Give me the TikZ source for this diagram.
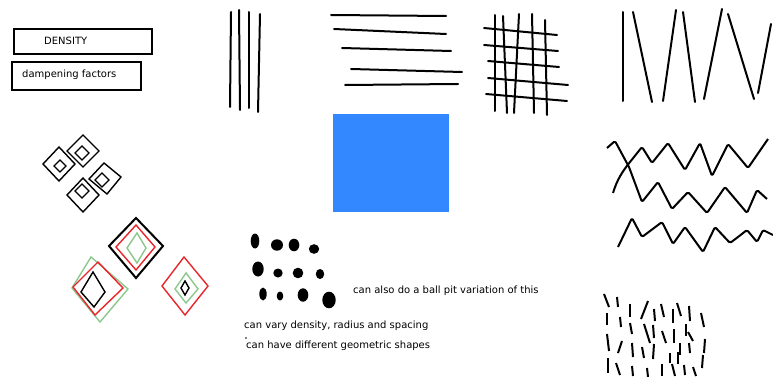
\documentclass[tikz,border=0pt]{standalone}
\usepackage{fontspec}
\setmainfont{DejaVu Sans}
\usetikzlibrary{positioning}
\definecolor{pitblue}{RGB}{51,136,255}
\definecolor{pitred}{RGB}{232,38,42}
\definecolor{pitgreen}{RGB}{140,200,140}

\begin{document}
\begin{tikzpicture}[x=1pt, y=-1pt,
    stroke/.style={line width=2pt, line cap=round},
    wave/.style={line width=2pt, line join=round, rounded corners=1.5pt},
    rhomb/.style={line width=1.4pt, line join=miter},
    note/.style={anchor=west, inner sep=0pt, font=\fontsize{10}{12}\selectfont}]

  % Fix the page size
  \useasboundingbox (0,0) rectangle (773,377);

  % Label boxes
  \draw[line width=2pt] (14,29) rectangle (152,54);
  \draw[line width=2pt] (12,62) rectangle (141,90);
  \node[note] (density) at (44,41) {DENSITY};
  \node[note] (damp) at (22,75) {dampening factors};

  % Vertical strokes
  \draw[stroke] (231,12) -- (230,107);
  \draw[stroke] (239,10) -- (240,110);
  \draw[stroke] (249,12) -- (249,108);
  \draw[stroke] (260,14) -- (258,112);

  % Horizontal strokes
  \draw[stroke] (331,15) -- (446,16);
  \draw[stroke] (334,29) -- (446,34);
  \draw[stroke] (342,48) -- (451,51);
  \draw[stroke] (351,69) -- (462,72);
  \draw[stroke] (345,85) -- (458,84);

  % Grid
  \draw[stroke] (495,15) -- (495,111);
  \draw[stroke] (503,16) -- (507,113);
  \draw[stroke] (519,14) -- (514,113);
  \draw[stroke] (532,14) -- (534,113);
  \draw[stroke] (545,20) -- (547,115);
  \draw[stroke] (484,28) -- (557,35);
  \draw[stroke] (484,45) -- (558,51);
  \draw[stroke] (488,61) -- (559,67);
  \draw[stroke] (488,78) -- (568,85);
  \draw[stroke] (486,94) -- (567,101);

  % Zigzag strokes
  \draw[stroke] (623,12) -- (623,101);
  \draw[stroke] (633,12) -- (652,102);
  \draw[stroke] (663,101) -- (676,10);
  \draw[stroke] (683,12) -- (695,102);
  \draw[stroke] (704,99) -- (722,9);
  \draw[stroke] (728,14) -- (754,99);
  \draw[stroke] (758,93) -- (771,24);

  % Blue square
  \fill[pitblue] (333,114) rectangle (449,212);

  % Small diamonds
  \draw[rhomb] (43,164) -- (59,147) -- (75,164) -- (59,181) -- cycle;
  \draw[rhomb] (54,166) -- (60,160) -- (66,166) -- (60,172) -- cycle;
  \draw[rhomb] (67,151) -- (83,135) -- (99,151) -- (83,167) -- cycle;
  \draw[rhomb] (75,153) -- (82,146) -- (89,153) -- (82,160) -- cycle;
  \draw[rhomb] (89,179) -- (104,163) -- (121,177) -- (107,194) -- cycle;
  \draw[rhomb] (95,180) -- (102,173) -- (109,180) -- (102,187) -- cycle;
  \draw[rhomb] (67,195) -- (83,178) -- (99,195) -- (83,212) -- cycle;
  \draw[rhomb] (75,191) -- (82,184) -- (89,191) -- (82,198) -- cycle;

  % Coloured diamonds
  \draw[rhomb, line width=2pt] (109,246) -- (136,218) -- (163,246) -- (136,278) -- cycle;
  \draw[rhomb, pitred] (116,247) -- (136,225) -- (155,247) -- (136,270) -- cycle;
  \draw[rhomb, pitgreen] (127,248) -- (137,233) -- (146,248) -- (137,263) -- cycle;

  \draw[rhomb, pitgreen] (72,288) -- (91,257) -- (128,289) -- (100,322) -- cycle;
  \draw[rhomb, pitred] (73,287) -- (98,262) -- (123,288) -- (95,315) -- cycle;
  \draw[rhomb] (81,292) -- (93,272) -- (105,292) -- (94,307) -- cycle;

  \draw[rhomb, pitred] (162,286) -- (184,257) -- (208,286) -- (185,315) -- cycle;
  \draw[rhomb, pitgreen] (175,289) -- (186,273) -- (198,289) -- (186,303) -- cycle;
  \draw[rhomb] (181,288) -- (185,281) -- (189,288) -- (185,295) -- cycle;

  % Dots
  \foreach \px/\py/\rx/\ry in {255/241/4.3/7.5, 277/245/6/5.7, 294/245/5.3/6.3, 314/249/5.2/4.8,
      258/269/5.7/7.5, 278/273/4.7/4.5, 298/273/5.3/5.3, 320/274/4.2/5,
      263/294/3.7/6.5, 280/296/3.3/4.5, 303/295/5.3/6.7, 329/300/6.7/8.3}
    \fill (\px,\py) ellipse [x radius=\rx, y radius=\ry];
  \fill (246,338) circle [radius=0.8];

  % Notes
  \node[note] (ballpit) at (353,291) {can also do a ball pit variation of this};
  \node[note] (vary) at (244,326) {can vary density, radius and spacing};
  \node[note] (shapes) at (246,346) {can have different geometric shapes};

  % Waves
  \draw[wave] (607,148) -- (615,141) -- (629,167) -- (642,202) -- (658,182) -- (672,209)
    -- (688,192) -- (707,213) -- (725,187) -- (747,213) -- (757,190) -- (767,199);
  \draw[wave] (613,193) .. controls (617,180) and (622,172) .. (630,162) -- (642,147) -- (652,163)
    -- (668,143) -- (685,170) -- (700,143) -- (712,176) -- (728,144) -- (748,168) -- (768,139);
  \draw[wave] (618,247) -- (632,218) -- (642,237) -- (662,222) -- (673,244) -- (685,227)
    -- (703,252) -- (715,227) -- (730,243) -- (738,237) -- (747,230) -- (757,242)
    -- (763,230) -- (773,235);

  % Short dashes
  \foreach \ax/\ay/\bx/\by in {604/294/609/307, 617/297/618/307, 630/304/630/317, 648/301/641/319,
      654/309/655/321, 661/304/664/317, 677/303/681/316, 673/309/673/323, 689/306/690/321,
      701/313/704/327,
      607/313/607/325, 620/317/621/327, 630/323/632/334, 644/324/650/343, 653/325/654/338,
      662/331/666/343, 674/329/674/343, 686/324/686/336, 688/332/693/341, 705/339/704/353,
      607/334/609/351, 622/341/618/353, 632/343/633/357, 642/347/644/358, 654/344/653/359,
      670/353/670/363, 680/343/680/355, 678/352/678/364, 689/343/690/353, 703/355/702/368,
      608/358/608/373, 616/363/620/375, 632/366/633/376, 647/368/648/377, 662/364/662/376,
      672/364/675/376, 684/365/685/375, 693/367/696/376}
    \draw[line width=2pt] (\ax,\ay) -- (\bx,\by);

\end{tikzpicture}
\end{document}
